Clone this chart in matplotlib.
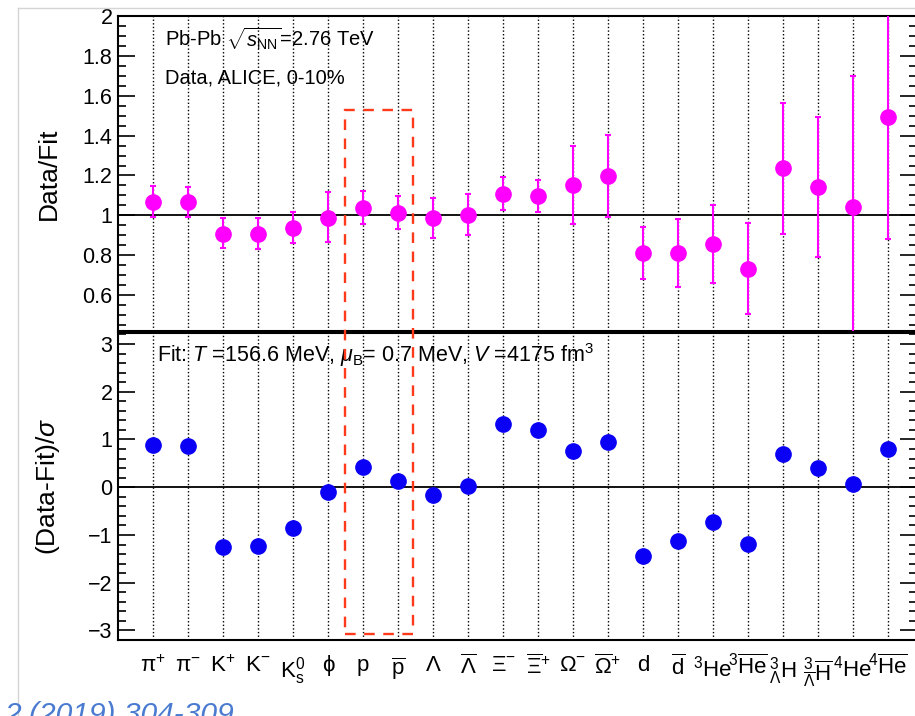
import numpy as np
import matplotlib
matplotlib.use('Agg')
import matplotlib.pyplot as plt
from matplotlib.patches import Rectangle
from matplotlib.lines import Line2D
from matplotlib.ticker import MultipleLocator, FormatStrFormatter

#Particle species (x categories)
particles = [r'π$^{+}$', r'π$^{-}$', r'K$^{+}$', r'K$^{-}$', r'K$^{0}_{\rm s}$', 'ϕ', 'p',
             r'$\overline{\rm p}$', r'$\Lambda$', r'$\overline{\Lambda}$', r'$\Xi^{-}$',
             r'$\overline{\Xi}^{+}$', r'$\Omega^{-}$', r'$\overline{\Omega}^{+}$', 'd',
             r'$\overline{\rm d}$', r'$^{3}$He', r'$^{3}\overline{\rm He}$', r'$^{3}_{\Lambda}$H',
             r'$^{3}_{\overline{\Lambda}}\overline{\rm H}$', r'$^{4}$He', r'$^{4}\overline{\rm He}$']

#Data/Fit ratio with upper and lower ends of the error bars
ratio = [1.068, 1.067, 0.908, 0.906, 0.938, 0.988, 1.037, 1.013, 0.985, 1.002, 1.108,
         1.095, 1.152, 1.199, 0.811, 0.809, 0.858, 0.731, 1.236, 1.142, 1.043, 1.492]
ratioUp = [1.147, 1.144, 0.985, 0.985, 1.015, 1.115, 1.120, 1.095, 1.087, 1.105, 1.194,
           1.175, 1.349, 1.403, 0.941, 0.980, 1.052, 0.963, 1.565, 1.493, 1.699, 2.10]
ratioDown = [0.991, 0.990, 0.836, 0.829, 0.863, 0.864, 0.956, 0.930, 0.884, 0.901, 1.027,
             1.017, 0.958, 0.991, 0.680, 0.642, 0.662, 0.505, 0.905, 0.791, 0.38, 0.881]

#(Data-Fit)/sigma
deviation = [0.887, 0.872, -1.255, -1.226, -0.850, -0.097, 0.433, 0.140, -0.160, 0.028, 1.318,
             1.207, 0.768, 0.956, -1.450, -1.136, -0.732, -1.185, 0.705, 0.397, 0.063, 0.803]

#Highlighted region (p and pbar), in data units of each panel
boxX = [5.5, 7.43]
boxTop = 1.53
boxBottom = -3.08

plt.rcParams['font.family'] = ['Liberation Sans', 'DejaVu Sans']
plt.rcParams['mathtext.fontset'] = 'custom'
plt.rcParams['mathtext.rm'] = 'Liberation Sans'
plt.rcParams['mathtext.it'] = 'Liberation Sans:italic'
plt.rcParams['mathtext.bf'] = 'Liberation Sans:bold'
plt.rcParams['axes.linewidth'] = 1.5

fig = plt.figure(figsize=(9.15, 7.16), dpi=100)
top = fig.add_axes([118/915, 385/716, 799/915, 315/716])
bottom = fig.add_axes([118/915, 76/716, 799/915, 307/716])

x = np.arange(len(particles))

for ax in (top, bottom):
    for xi in x:
        ax.axvline(xi, color='black', ls=(0, (1, 1.6)), lw=1.0, zorder=1)
    ax.set_xlim(-1, 21.83)
    ax.set_xticks(x)
    ax.tick_params(axis='y', which='both', direction='in', left=True, right=True, width=1.2)
    ax.tick_params(axis='y', which='major', length=12, labelsize=15.5, pad=4)
    ax.tick_params(axis='y', which='minor', length=6)
    ax.tick_params(axis='x', length=0)

#Top panel
top.axhline(1, color='black', lw=1.3, zorder=2)
errLow = np.array(ratio) - np.array(ratioDown)
errHigh = np.array(ratioUp) - np.array(ratio)
top.errorbar(x, ratio, yerr=[errLow, errHigh], fmt='o', color='#ff00ff', ms=11,
             elinewidth=1.5, capsize=2.5, capthick=1.5, zorder=3)
top.set_ylim(0.42, 2.0)
top.yaxis.set_major_locator(MultipleLocator(0.2))
top.yaxis.set_minor_locator(MultipleLocator(0.05))
top.yaxis.set_major_formatter(FormatStrFormatter('%g'))
top.tick_params(axis='x', labelbottom=False)
top.set_ylabel('Data/Fit', fontsize=19)
top.yaxis.set_label_coords(-0.072, 0.5)
top.text(0.0588, 0.905, r'Pb-Pb $\sqrt{s_{\rm NN}}$=2.76 TeV', transform=top.transAxes,
         fontsize=14.5, va='baseline', zorder=0.5)
top.text(0.0588, 0.786, 'Data, ALICE, 0-10%', transform=top.transAxes,
         fontsize=14.5, va='baseline', zorder=0.5)

#Bottom panel
bottom.axhline(0, color='black', lw=1.3, zorder=2)
bottom.plot(x, deviation, 'o', color='#0a00f5', ms=11, zorder=3)
bottom.set_ylim(-3.2, 3.23)
bottom.yaxis.set_major_locator(MultipleLocator(1))
bottom.yaxis.set_minor_locator(MultipleLocator(0.2))
bottom.set_xticklabels(particles, fontsize=16)
bottom.tick_params(axis='x', pad=11)
bottom.set_ylabel(r'(Data-Fit)/$\sigma$', fontsize=19)
bottom.yaxis.set_label_coords(-0.07, 0.5)
bottom.text(0.0484, 0.9065, r'Fit: $T$ =156.6 MeV, $\mu_{\rm B}$= 0.7 MeV, $V$ =4175 fm$^{3}$',
            transform=bottom.transAxes, fontsize=15.5, va='baseline', zorder=0.5)

#Red dashed box across both panels
toFig = fig.transFigure.inverted()
p1 = toFig.transform(top.transData.transform((boxX[0], boxTop)))
p2 = toFig.transform(bottom.transData.transform((boxX[1], boxBottom)))
fig.add_artist(Rectangle((p1[0], p2[1]), p2[0] - p1[0], p1[1] - p2[1], transform=fig.transFigure,
                         fill=False, edgecolor='#ff3a1a', lw=1.7, ls=(0, (4.5, 3.6)), zorder=10))

#Slide border and reference
fig.add_artist(Line2D([18/915, 18/915], [0, 708/716], transform=fig.transFigure, color='#d4d4d4', lw=1))
fig.add_artist(Line2D([18/915, 1], [708/716, 708/716], transform=fig.transFigure, color='#d4d4d4', lw=1))
fig.text(234/915, -7/716, '2 (2019) 304-309', ha='right', va='baseline', fontsize=21.6,
         style='italic', color='#4a7bd0')

fig.savefig('out.png', dpi=100)
